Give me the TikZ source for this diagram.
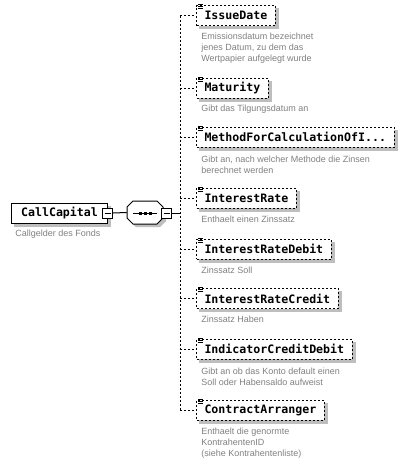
\documentclass[tikz,border=0pt]{standalone}
\usepackage{fontspec}
\setmainfont{Liberation Sans}
\setmonofont{DejaVu Sans Mono}
\usetikzlibrary{backgrounds}
\definecolor{descgray}{RGB}{128,128,128}
\definecolor{shadowgray}{RGB}{190,190,190}
\tikzset{
  elem/.style={draw, fill=white, line width=0.75pt,
    font=\ttfamily\bfseries\fontsize{8.7pt}{10pt}\selectfont,
    minimum height=15pt, inner xsep=6pt, inner ysep=0pt, anchor=west},
  optelem/.style={elem, dash pattern=on 1.5pt off 1.5pt},
  minusbox/.style={draw, fill=white, line width=0.75pt, minimum size=7.5pt, inner sep=0pt,
    path picture={\draw[line width=0.75pt] ([xshift=1.5pt]path picture bounding box.west) -- ([xshift=-1.5pt]path picture bounding box.east);}},
  desc/.style={anchor=north west, inner sep=0pt, text=descgray, align=left,
    font=\fontsize{6.75pt}{8.25pt}\selectfont},
  conn/.style={line width=0.75pt, dash pattern=on 1.5pt off 1.5pt},
  solidconn/.style={line width=0.75pt},
  icon/.style={line width=0.75pt},
  shadowfill/.style={fill=shadowgray}
}
\begin{document}
\begin{tikzpicture}[x=0.75pt,y=-0.75pt]
\useasboundingbox (0,0) rectangle (412,464);

% root element
\node[elem, minimum width=72pt] (cc) at (11,213) {CallCapital};
\node[minusbox] (ccm) at (107.5,213) {};
\node[desc] (ccd) at (15,229.7) {Callgelder des Fonds};

% sequence compositor
\fill[shadowfill] (136,204) -- (160,204) -- (166,210) -- (166,221) -- (160,227) -- (136,227) -- (130,221) -- (130,210) -- cycle;
\draw[line width=0.75pt, fill=white] (133,201) -- (157,201) -- (163,207) -- (163,218) -- (157,224) -- (133,224) -- (127,218) -- (127,207) -- cycle;
\node[inner sep=0pt, minimum width=27pt, minimum height=17.25pt] (seq) at (145,212.5) {};
\draw[line width=0.75pt] (133,213) -- (157,213);
\fill (138.5,211.5) rectangle (141.5,214.5);
\fill (143.5,211.5) rectangle (146.5,214.5);
\fill (148.5,211.5) rectangle (151.5,214.5);
\node[minusbox] (seqm) at (166.5,213) {};
\coordinate (bus) at (180,213);

\draw[solidconn] (ccm.east) -- (seq.west);
\draw[solidconn] (seqm.east) -- (bus);

% children
\node[optelem] (c1) at (196,15.5) {IssueDate};
\node[optelem] (c2) at (196,88) {Maturity};
\node[optelem] (c3) at (196,137) {MethodForCalculationOfI...};
\node[optelem] (c4) at (196,198) {InterestRate};
\node[optelem] (c5) at (196,249) {InterestRateDebit};
\node[optelem] (c6) at (196,298.5) {InterestRateCredit};
\node[optelem] (c7) at (196,349) {IndicatorCreditDebit};
\node[optelem] (c8) at (196,410) {ContractArranger};

\begin{scope}[on background layer]
  \foreach \n in {cc,c1,c2,c3,c4,c5,c6,c7,c8}{
    \fill[shadowfill] ([shift={(3,3)}]\n.south west) rectangle ([shift={(3,3)}]\n.north east);
  }
\end{scope}

\foreach \n in {c1,c2,c3,c4,c5,c6,c7,c8}{
  \draw[icon] ([shift={(2,-0.5)}]\n.north west) -- ++(4.5,0);
  \draw[icon] ([shift={(2,1.5)}]\n.north west) -- ++(4.5,0);
  \draw[icon] ([shift={(2,3.5)}]\n.north west) -- ++(4.5,0);
  \draw[conn] (\n.west -| bus) -- (\n.west);
}
\draw[conn] (c1.west -| bus) -- (c8.west -| bus);

% descriptions
\node[desc] (d1) at (201,32.7) {Emissionsdatum bezeichnet\\jenes Datum, zu dem das\\Wertpapier aufgelegt wurde};
\node[desc] (d2) at (201,104.7) {Gibt das Tilgungsdatum an};
\node[desc] (d3) at (201,155.7) {Gibt an, nach welcher Methode die Zinsen\\berechnet werden};
\node[desc] (d4) at (201,215.7) {Enthaelt einen Zinssatz};
\node[desc] (d5) at (201,266.7) {Zinssatz Soll};
\node[desc] (d6) at (201,315.7) {Zinssatz Haben};
\node[desc] (d7) at (201,367.7) {Gibt an ob das Konto default einen\\Soll oder Habensaldo aufweist};
\node[desc] (d8) at (201,427.7) {Enthaelt die genormte\\KontrahentenID\\(siehe Kontrahentenliste)};
\end{tikzpicture}
\end{document}
